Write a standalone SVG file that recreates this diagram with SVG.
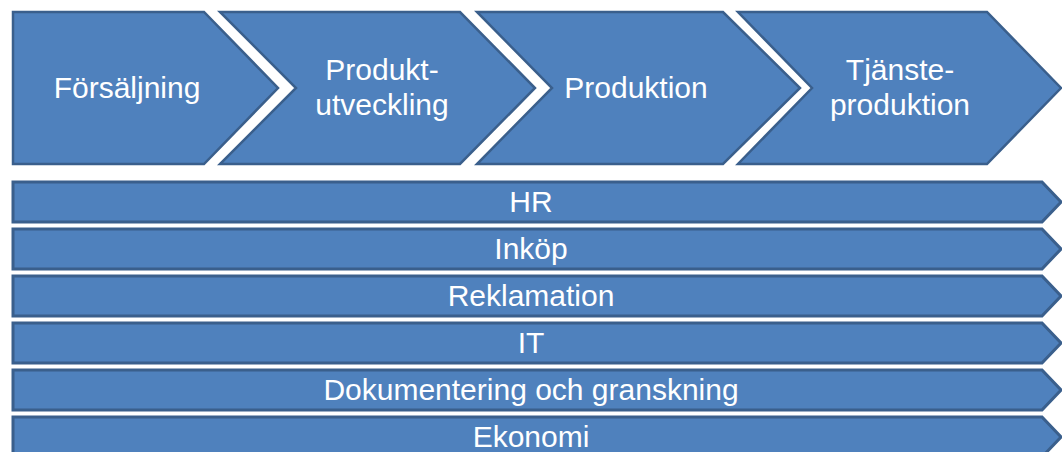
<svg xmlns="http://www.w3.org/2000/svg" width="1062" height="452" viewBox="0 0 1062 452">
  <style>
    .shape { fill: #4F81BD; stroke: #3A5F8C; stroke-width: 2.5; stroke-linejoin: miter; }
    .bar { fill: #4F81BD; stroke: #3A5F8C; stroke-width: 3; stroke-linejoin: miter; }
    .label { fill: #FFFFFF; font-family: "Liberation Sans", Arial, sans-serif; font-size: 30px; text-anchor: middle; }
  </style>
  <rect width="1062" height="452" fill="#FFFFFF"/>

  <!-- process chevrons -->
  <g id="forsaljning">
    <polygon class="shape" points="13,12 204,12 278,88 204,164 13,164"/>
    <text class="label" x="127" y="98">Försäljning</text>
  </g>
  <g id="produktutveckling">
    <polygon class="shape" points="220,12 460,12 535,88 460,164 220,164 296,88"/>
    <text class="label" x="382" y="80">Produkt-</text>
    <text class="label" x="382" y="115">utveckling</text>
  </g>
  <g id="produktion">
    <polygon class="shape" points="477,12 723,12 800,88 723,164 477,164 552,88"/>
    <text class="label" x="636" y="98">Produktion</text>
  </g>
  <g id="tjansteproduktion">
    <polygon class="shape" points="738,12 987,12 1061,88 987,164 738,164 812,88"/>
    <text class="label" x="900" y="80">Tjänste-</text>
    <text class="label" x="900" y="115">produktion</text>
  </g>

  <!-- support function bars -->
  <g id="hr">
    <polygon class="bar" points="13,182 1042,182 1061,202 1042,222 13,222"/>
    <text class="label" x="531" y="212">HR</text>
  </g>
  <g id="inkop">
    <polygon class="bar" points="13,229 1042,229 1061,249 1042,269 13,269"/>
    <text class="label" x="531" y="259">Inköp</text>
  </g>
  <g id="reklamation">
    <polygon class="bar" points="13,276 1042,276 1061,296 1042,316 13,316"/>
    <text class="label" x="531" y="306">Reklamation</text>
  </g>
  <g id="it">
    <polygon class="bar" points="13,323 1042,323 1061,343 1042,363 13,363"/>
    <text class="label" x="531" y="353">IT</text>
  </g>
  <g id="dokumentering">
    <polygon class="bar" points="13,370 1042,370 1061,390 1042,410 13,410"/>
    <text class="label" x="531" y="400">Dokumentering och granskning</text>
  </g>
  <g id="ekonomi">
    <polygon class="bar" points="13,417 1042,417 1061,437 1042,457 13,457"/>
    <text class="label" x="531" y="447">Ekonomi</text>
  </g>

  <g id="connectors"/>
</svg>
